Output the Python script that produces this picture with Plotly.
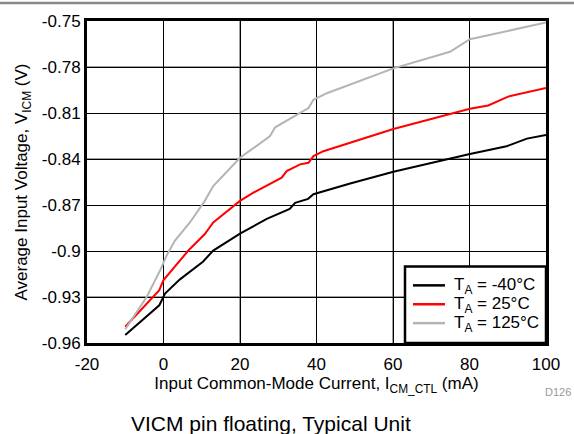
import plotly.graph_objects as go

# Data
x_m40 = [-10, -1.1, 0.4, 4.3, 10.3, 13, 20, 27, 33, 34.4, 37.8, 39.2, 48.8, 60.1, 80.1, 89.7, 95, 100]
y_m40 = [-0.9548, -0.9354, -0.9278, -0.9185, -0.907, -0.8997, -0.8887, -0.879, -0.8725, -0.8686,
         -0.866, -0.863, -0.856, -0.8483, -0.8367, -0.8317, -0.8267, -0.8243]

x_25 = [-10, -1.1, 0, 6.5, 10.8, 13, 20, 23.5, 30.9, 32.2, 35.7, 37.9, 39.2, 41.8, 60.1, 80.1, 84.9, 90.1, 100]
y_25 = [-0.9494, -0.9256, -0.919, -0.8997, -0.8889, -0.8814, -0.8673, -0.8619, -0.8522, -0.8479,
        -0.8435, -0.8425, -0.8381, -0.8349, -0.8204, -0.8072, -0.8051, -0.7993, -0.7937]

x_125 = [-10, -4.4, -0.9, 0.8, 3, 6.9, 10.8, 13, 20, 27.8, 29.2, 35.7, 37.9, 39.2, 42.7, 60.1, 74.9, 80.1, 100]
y_125 = [-0.951, -0.93, -0.9127, -0.903, -0.8932, -0.8814, -0.8673, -0.8576, -0.8392, -0.8252, -0.8193,
         -0.8101, -0.8068, -0.8014, -0.7971, -0.7809, -0.7701, -0.7619, -0.751]

x_ticks = [-20, 0, 20, 40, 60, 80, 100]
x_tick_text = ["-20", "0", "20", "40", "60", "80", "100"]
y_ticks = [-0.96, -0.93, -0.9, -0.87, -0.84, -0.81, -0.78, -0.75]
y_tick_text = ["-0.96", "-0.93", "-0.9", "-0.87", "-0.84", "-0.81", "-0.78", "-0.75"]

# grid lines drawn lighter (gray) in the reference
x_gray_grid = [20, 60]
y_gray_grid = [-0.93, -0.84, -0.78]

series = [
    ("T<sub>A</sub> = -40°C", x_m40, y_m40, "#000000"),
    ("T<sub>A</sub> = 25°C", x_25, y_25, "#ff0000"),
    ("T<sub>A</sub> = 125°C", x_125, y_125, "#b4b4b4"),
]

font = "Liberation Sans, Arial, sans-serif"
L, T, W, H = 87, 19, 459, 324  # plot area in pixels


def px(X):
    return (X - L) / W


def py(Y):
    return (T + H - Y) / H


fig = go.Figure()
for name, xs, ys, col in series:
    fig.add_trace(go.Scatter(x=xs, y=ys, mode="lines", name=name, showlegend=False,
                             line=dict(color=col, width=2)))

shapes = [dict(type="line", xref="paper", yref="paper", x0=px(0), x1=px(574),
               y0=py(1), y1=py(1), line=dict(color="#888", width=2.5))]
for gx in x_gray_grid:
    shapes.append(dict(type="line", xref="x", yref="paper", x0=gx, x1=gx, y0=0, y1=1,
                       layer="below", line=dict(color="#808080", width=1.5)))
for gy in y_gray_grid:
    shapes.append(dict(type="line", xref="paper", yref="y", x0=0, x1=1, y0=gy, y1=gy,
                       layer="below", line=dict(color="#808080", width=1.5)))

# custom legend box
shapes.append(dict(type="rect", xref="paper", yref="paper", x0=px(405), x1=1, y0=0, y1=py(266),
                   fillcolor="white", line=dict(color="black", width=2.5), layer="above"))
annotations = []
row_y = [285, 304, 323]
for (name, xs, ys, col), ry in zip(series, row_y):
    shapes.append(dict(type="line", xref="paper", yref="paper", x0=px(413), x1=px(445),
                       y0=py(ry), y1=py(ry), line=dict(color=col, width=2.5), layer="above"))
    annotations.append(dict(text=name, xref="paper", yref="paper", x=px(452), y=py(ry + 1),
                            xanchor="left", yanchor="middle", showarrow=False,
                            font=dict(size=17, color="black")))

annotations += [
    dict(text="D126", xref="paper", yref="paper", x=px(573), y=py(392),
         xanchor="right", yanchor="middle", showarrow=False, font=dict(size=11, color="#999")),
    dict(text="VICM pin floating, Typical Unit", xref="paper", yref="paper", x=px(271),
         y=py(424), xanchor="center", yanchor="middle", showarrow=False, font=dict(size=21)),
]

fig.update_layout(
    width=574, height=434,
    margin=dict(l=L, r=574 - L - W, t=T, b=434 - T - H),
    paper_bgcolor="white", plot_bgcolor="white",
    font=dict(family=font, size=17, color="black"),
    showlegend=False,
    xaxis=dict(range=[-20, 100], tickvals=x_ticks, ticktext=x_tick_text, showgrid=True,
               gridcolor="#000", gridwidth=1.2, ticklabelstandoff=4,
               zeroline=False, showline=True, linecolor="black", linewidth=3, mirror=True,
               ticks="", tickfont=dict(size=17),
               title=dict(text="Input Common-Mode Current, I<sub>CM_CTL</sub> (mA)", font=dict(size=17), standoff=0)),
    yaxis=dict(range=[-0.96, -0.75], tickvals=y_ticks, ticktext=y_tick_text, showgrid=True,
               gridcolor="#000", gridwidth=1.2, zeroline=False, showline=True, linecolor="black",
               linewidth=3, mirror=True, ticks="", tickfont=dict(size=17),
               title=dict(text="Average Input Voltage, V<sub>ICM</sub> (V)", font=dict(size=17), standoff=10)),
    shapes=shapes,
    annotations=annotations,
)

fig.write_html("out.html", config={"displayModeBar": False},
               post_script="document.body.style.margin='0';")
